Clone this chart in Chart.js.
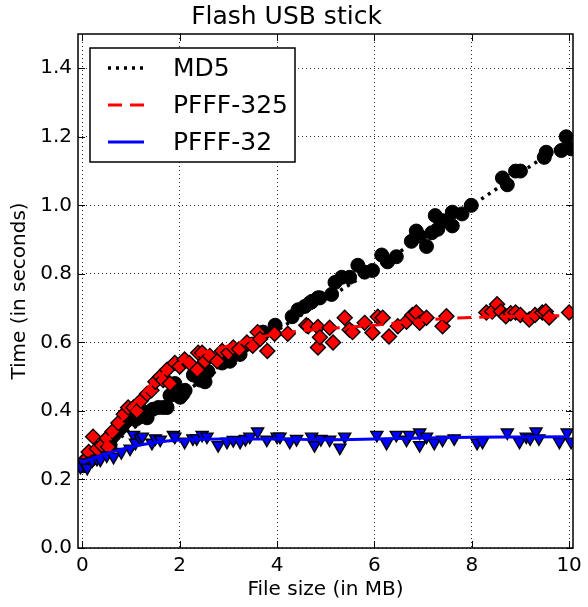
<!DOCTYPE html>
<html>
<head>
<meta charset="utf-8">
<script src="https://cdn.jsdelivr.net/npm/chart.js@4"></script>
<style>html,body{margin:0;padding:0;background:#fff}#wrap{width:588px;height:607px}</style>
</head>
<body>
<div id="wrap"><canvas id="c" width="588" height="607"></canvas></div>
<script>
// measured points (file size in MB, time in s)
var MD5_X=[0.02,0.08,0.15,0.25,0.4,0.5,0.57,0.65,0.75,0.82,0.9,1.09,1.13,1.19,1.23,1.33,1.45,1.56,1.66,1.74,1.8,1.9,2.01,2.07,2.11,2.28,2.42,2.46,2.52,2.58,2.87,3.03,3.24,3.49,3.71,3.96,4.31,4.43,4.57,4.67,4.72,4.84,4.88,5.12,5.19,5.33,5.49,5.66,5.8,5.96,6.15,6.27,6.45,6.76,6.86,6.93,7.07,7.18,7.25,7.3,7.41,7.6,7.6,7.8,7.99,8.63,8.73,8.9,9.0,9.49,9.53,9.84,9.94,10.04];
var MD5_Y=[0.24,0.25,0.255,0.27,0.29,0.30,0.30,0.33,0.345,0.355,0.37,0.375,0.38,0.395,0.40,0.38,0.405,0.41,0.41,0.41,0.445,0.48,0.44,0.45,0.46,0.505,0.49,0.50,0.485,0.515,0.54,0.545,0.565,0.595,0.63,0.65,0.675,0.695,0.705,0.715,0.72,0.73,0.73,0.74,0.775,0.79,0.79,0.825,0.805,0.81,0.855,0.835,0.85,0.895,0.925,0.91,0.88,0.92,0.97,0.93,0.955,0.98,0.94,0.975,1.0,1.08,1.06,1.10,1.10,1.14,1.155,1.16,1.20,1.165];

var P325_X=[0.0,0.08,0.13,0.22,0.3,0.4,0.5,0.53,0.62,0.74,0.85,0.94,1.05,1.12,1.2,1.33,1.42,1.5,1.6,1.66,1.74,1.8,1.9,2.0,2.1,2.2,2.36,2.38,2.46,2.52,2.62,2.77,2.87,3.0,3.1,3.22,3.38,3.5,3.6,3.65,3.8,3.95,4.22,4.6,4.64,4.84,4.84,4.88,5.08,5.15,5.39,5.49,5.55,5.8,5.96,6.07,6.17,6.3,6.48,6.66,6.78,6.86,6.93,7.07,7.4,7.48,8.3,8.42,8.52,8.6,8.7,8.8,8.9,9.0,9.18,9.3,9.45,9.52,9.59,10.0];
var P325_Y=[0.25,0.26,0.28,0.325,0.29,0.30,0.32,0.295,0.34,0.365,0.39,0.41,0.41,0.40,0.43,0.45,0.46,0.485,0.50,0.49,0.52,0.48,0.54,0.53,0.55,0.54,0.52,0.57,0.57,0.545,0.56,0.545,0.575,0.57,0.585,0.58,0.60,0.59,0.63,0.61,0.575,0.625,0.625,0.65,0.647,0.645,0.585,0.615,0.643,0.60,0.672,0.637,0.63,0.657,0.628,0.675,0.672,0.617,0.647,0.66,0.68,0.687,0.657,0.672,0.647,0.676,0.687,0.69,0.711,0.69,0.676,0.685,0.687,0.68,0.667,0.68,0.687,0.69,0.673,0.687];

var P32_X=[-0.04,0.02,0.1,0.2,0.3,0.37,0.5,0.64,0.8,0.98,1.05,1.09,1.19,1.23,1.43,1.5,1.6,1.87,1.9,2.1,2.27,2.35,2.46,2.56,2.79,2.97,3.1,3.24,3.35,3.44,3.6,3.79,4.0,4.06,4.26,4.4,4.71,4.77,4.9,5.08,5.29,5.39,6.05,6.25,6.45,6.66,6.72,6.93,6.93,7.07,7.23,7.4,7.64,8.11,8.22,8.73,8.98,9.12,9.2,9.32,9.38,9.8,9.96,10.04];
var P32_Y=[0.237,0.25,0.234,0.255,0.26,0.258,0.27,0.266,0.28,0.29,0.33,0.307,0.32,0.325,0.307,0.32,0.316,0.33,0.325,0.31,0.32,0.32,0.33,0.325,0.30,0.31,0.315,0.31,0.318,0.325,0.34,0.316,0.325,0.325,0.31,0.318,0.325,0.30,0.318,0.316,0.293,0.325,0.33,0.307,0.33,0.316,0.33,0.337,0.30,0.325,0.307,0.316,0.32,0.307,0.31,0.337,0.31,0.325,0.32,0.34,0.32,0.31,0.337,0.31];

// fitted curves
var MD5_FIT_X=[0,1,2,3,4,5,6,7,8,9,10];
var MD5_FIT_Y=[0.24,0.345,0.445,0.54,0.635,0.725,0.815,0.91,1.0,1.095,1.19];
var P325_FIT_X=[0.2,0.5,1,1.5,2,2.5,3,3.5,4,5,6,7,8,9,10];
var P325_FIT_Y=[0.245,0.31,0.41,0.49,0.54,0.57,0.59,0.61,0.625,0.64,0.65,0.665,0.673,0.676,0.678];
var P32_FIT_X=[0,0.5,1,1.5,2,3,4,5,6,7,8,9,10];
var P32_FIT_Y=[0.25,0.275,0.295,0.308,0.315,0.318,0.318,0.316,0.318,0.321,0.323,0.324,0.325];

var NAMES=['MD5','PFFF-325','PFFF-32'];
var X_TICKS=[0,2,4,6,8,10];
var Y_TICKS=[0,0.2,0.4,0.6,0.8,1.0,1.2,1.4];

function pts(xs,ys){return xs.map(function(x,i){return {x:x,y:ys[i]};});}

Chart.defaults.font.family="'DejaVu Sans',sans-serif";
Chart.defaults.color='#000';

// frame, inward ticks and boxed legend (matplotlib look)
var framePlugin={
  id:'frame',
  afterDraw:function(chart){
    var ctx=chart.ctx,a=chart.chartArea,xs=chart.scales.x,ys=chart.scales.y,T=7;
    ctx.save();
    ctx.setLineDash([]);
    ctx.strokeStyle='#000';ctx.lineWidth=1;
    X_TICKS.forEach(function(v){
      var p=Math.round(xs.getPixelForValue(v))+0.5;
      ctx.beginPath();ctx.moveTo(p,a.bottom);ctx.lineTo(p,a.bottom-T);ctx.moveTo(p,a.top);ctx.lineTo(p,a.top+T);ctx.stroke();
    });
    Y_TICKS.forEach(function(v){
      var p=Math.round(ys.getPixelForValue(v))+0.5;
      ctx.beginPath();ctx.moveTo(a.left,p);ctx.lineTo(a.left+T,p);ctx.moveTo(a.right,p);ctx.lineTo(a.right-T,p);ctx.stroke();
    });
    ctx.lineWidth=1.5;
    ctx.strokeRect(a.left,a.top,a.right-a.left,a.bottom-a.top);

    // legend
    var lx=90,ly=48,lw=205,lh=114;
    ctx.fillStyle='#fff';ctx.fillRect(lx,ly,lw,lh);
    ctx.lineWidth=1.5;ctx.strokeRect(lx,ly,lw,lh);
    var lines=chart.data.datasets.filter(function(d){return d.showLine;});
    lines.sort(function(p,q){return p.legendIndex-q.legendIndex;});
    lines.forEach(function(d,i){
      var y=68+i*37;
      ctx.beginPath();
      ctx.setLineDash(d.borderDash||[]);
      ctx.strokeStyle=d.borderColor;ctx.lineWidth=d.borderWidth;ctx.lineCap='butt';
      ctx.moveTo(108,y);ctx.lineTo(144,y);ctx.stroke();
      ctx.setLineDash([]);
      ctx.fillStyle='#000';ctx.font="25px 'DejaVu Sans'";ctx.textBaseline='middle';ctx.textAlign='left';
      ctx.fillText(d.label,173,y+1);
    });
    ctx.restore();
  }
};

new Chart(document.getElementById('c'),{
  type:'scatter',
  data:{
    datasets:[
      {label:'md5 points',data:pts(MD5_X,MD5_Y),order:6,pointStyle:'circle',pointRadius:7,backgroundColor:'#000',borderColor:'#000',pointBorderWidth:1},
      {label:NAMES[0],legendIndex:0,data:pts(MD5_FIT_X,MD5_FIT_Y),order:5,showLine:true,pointRadius:0,borderColor:'#000',borderWidth:3.5,borderDash:[3,5],cubicInterpolationMode:'monotone'},
      {label:'p325 points',data:pts(P325_X,P325_Y),order:4,pointStyle:'rectRot',pointRadius:7.5,backgroundColor:'#ff0000',borderColor:'#000',pointBorderWidth:1.4},
      {label:NAMES[1],legendIndex:1,data:pts(P325_FIT_X,P325_FIT_Y),order:3,showLine:true,pointRadius:0,borderColor:'#ff0000',borderWidth:3,borderDash:[14,8],cubicInterpolationMode:'monotone'},
      {label:'p32 points',data:pts(P32_X,P32_Y),order:2,pointStyle:'triangle',rotation:180,pointRadius:7,backgroundColor:'#0000ff',borderColor:'#000',pointBorderWidth:1.4},
      {label:NAMES[2],legendIndex:2,data:pts(P32_FIT_X,P32_FIT_Y),order:1,showLine:true,pointRadius:0,borderColor:'#0000ff',borderWidth:3,cubicInterpolationMode:'monotone'}
    ]
  },
  options:{
    responsive:false,
    animation:false,
    devicePixelRatio:1,
    layout:{padding:{left:0,right:15,top:0,bottom:0}},
    plugins:{
      legend:{display:false},
      tooltip:{enabled:false},
      title:{display:true,text:'Flash USB stick',color:'#000',font:{size:25,weight:'normal'},padding:{top:2,bottom:2}}
    },
    scales:{
      x:{
        type:'linear',min:-0.09,max:10.08,
        afterBuildTicks:function(s){s.ticks=X_TICKS.map(function(v){return {value:v};});},
        afterFit:function(s){s.height=59;s.paddingLeft=0;s.paddingRight=0;},
        grid:{color:'rgba(0,0,0,0.85)',lineWidth:1,drawTicks:false},
        border:{display:false,dash:[1,3]},
        ticks:{padding:6,color:'#000',font:{size:20},maxRotation:0,callback:function(v){return String(v);}},
        title:{display:true,text:'File size (in MB)',color:'#000',font:{size:20},padding:{top:0,bottom:5}}
      },
      y:{
        type:'linear',min:0,max:1.5,
        afterBuildTicks:function(s){s.ticks=Y_TICKS.map(function(v){return {value:v};});},
        afterFit:function(s){s.width=78;s.paddingTop=0;s.paddingBottom=0;},
        grid:{color:'rgba(0,0,0,0.85)',lineWidth:1,drawTicks:false},
        border:{display:false,dash:[1,3]},
        ticks:{padding:6,color:'#000',font:{size:20},callback:function(v){return v.toFixed(1);}},
        title:{display:true,text:'Time (in seconds)',color:'#000',font:{size:20},padding:{top:8,bottom:0}}
      }
    }
  },
  plugins:[framePlugin]
});
</script>
</body>
</html>
